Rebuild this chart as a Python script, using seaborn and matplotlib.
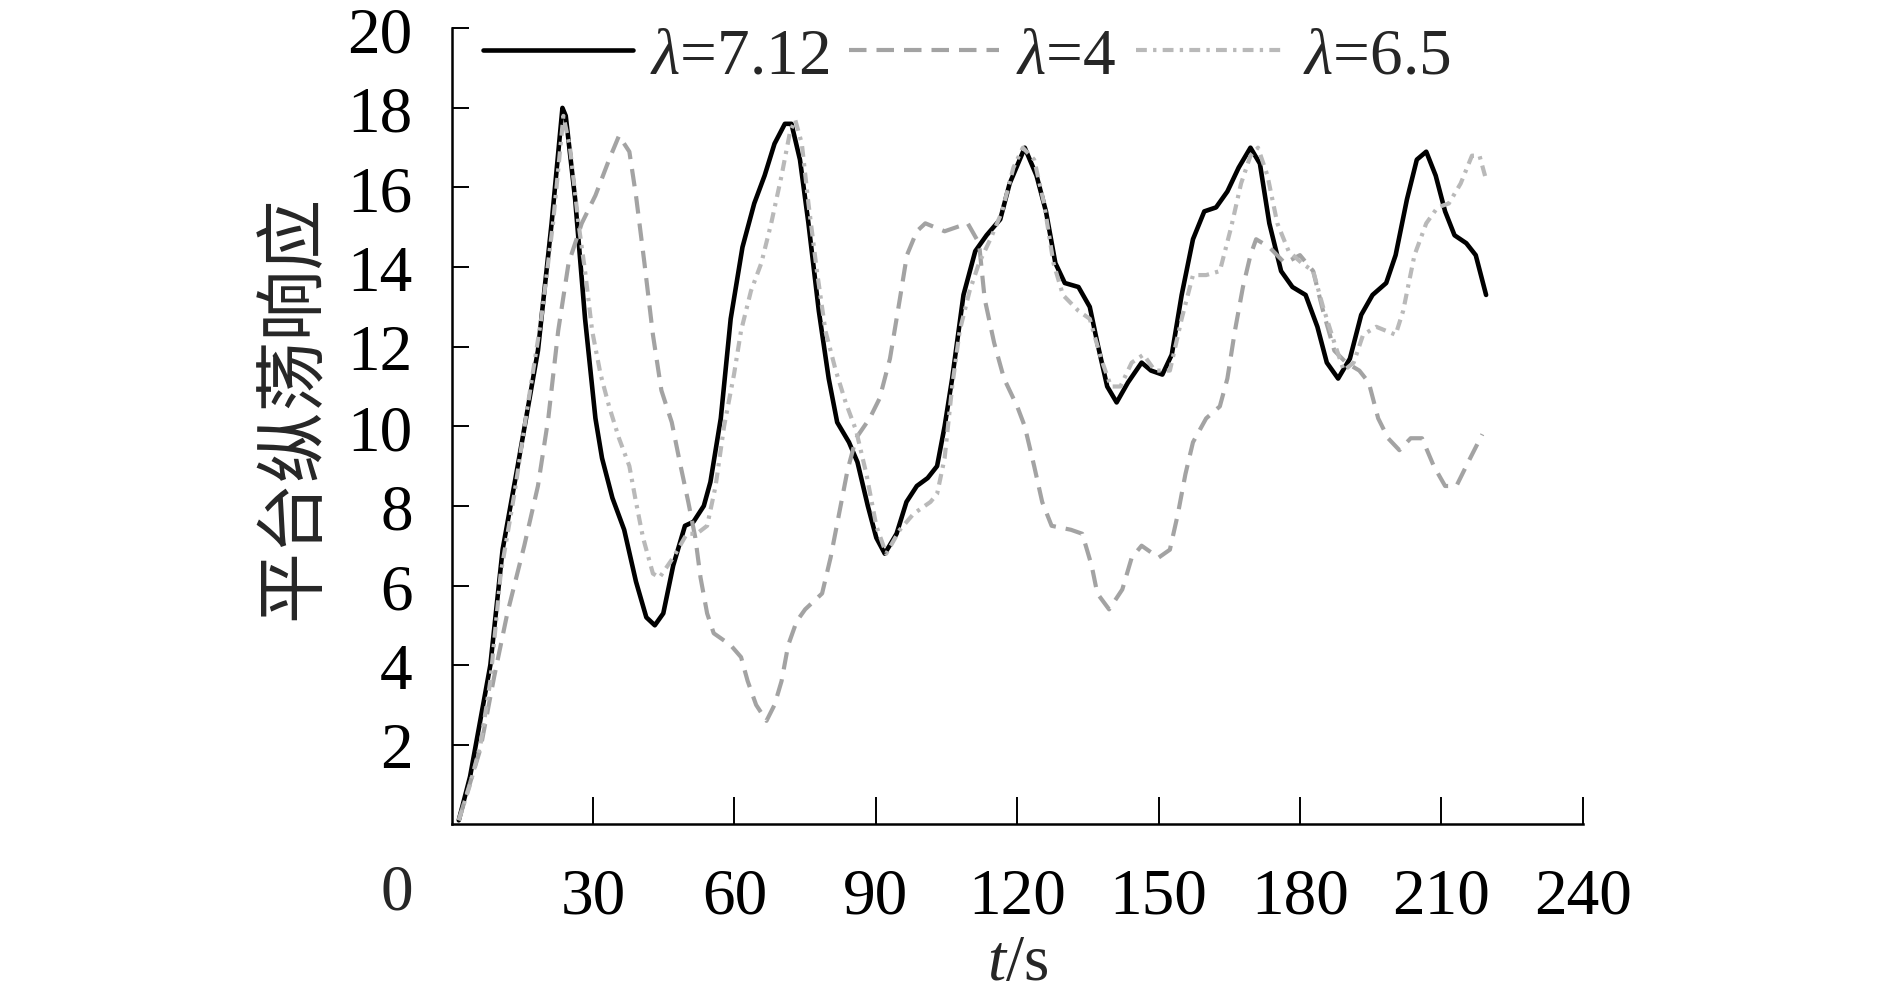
import numpy as np
import pandas as pd
import matplotlib
matplotlib.use("Agg")
import matplotlib.pyplot as plt
import seaborn as sns

# ---- data ----
t_a = [1.5, 3.9, 8.2, 10.8, 14.0, 18.3, 21.2, 23.5, 24.2, 26.2, 28.3, 30.5, 31.9, 34.1, 36.6, 39.1,
       41.3, 43.1, 44.9, 47.0, 49.5, 51.3, 53.5, 54.9, 57.1, 59.2, 61.7, 64.2, 66.4, 68.5, 70.7,
       72.1, 73.9, 75.7, 77.9, 80.0, 81.8, 84.3, 86.1, 88.3, 90.1, 91.9, 94.4, 96.5, 98.7, 101.0,
       103.0, 104.6, 106.2, 108.6, 111.1, 113.5, 116.4, 118.4, 121.6, 124.1, 126.1, 128.1, 130.1,
       133.0, 135.4, 137.0, 139.1, 141.1, 143.5, 146.4, 148.4, 150.8, 152.8, 154.9, 157.3, 159.7,
       162.2, 164.6, 167.0, 169.5, 171.5, 173.5, 176.0, 178.4, 181.2, 183.7, 185.7, 188.1, 190.6,
       193.0, 195.4, 198.3, 200.3, 202.7, 204.8, 206.8, 208.8, 210.8, 212.8, 215.3, 217.3, 219.5]
v_a = [0.1, 1.2, 4.0, 6.9, 9.0, 11.9, 15.1, 18.0, 17.8, 15.7, 12.7, 10.2, 9.2, 8.2, 7.4, 6.1,
       5.2, 5.0, 5.3, 6.5, 7.5, 7.6, 8.0, 8.6, 10.2, 12.7, 14.5, 15.6, 16.3, 17.1, 17.6,
       17.6, 16.7, 15.1, 12.9, 11.2, 10.1, 9.6, 9.1, 8.0, 7.2, 6.8, 7.3, 8.1, 8.5, 8.7,
       9.0, 10.0, 11.2, 13.3, 14.4, 14.8, 15.2, 16.1, 17.0, 16.3, 15.4, 14.1, 13.6,
       13.5, 13.0, 12.1, 11.0, 10.6, 11.1, 11.6, 11.4, 11.3, 11.8, 13.3, 14.7, 15.4,
       15.5, 15.9, 16.5, 17.0, 16.6, 15.1, 13.9, 13.5, 13.3, 12.5, 11.6, 11.2, 11.7,
       12.8, 13.3, 13.6, 14.3, 15.7, 16.7, 16.9, 16.3, 15.4, 14.8, 14.6, 14.3, 13.3]

t_b = [1.5, 6.1, 9.0, 11.8, 15.4, 18.3, 20.5, 22.6, 24.8, 27.6, 30.5, 33.4, 35.5, 37.7, 39.1,
       40.9, 42.7, 44.5, 46.7, 48.4, 50.2, 51.7, 52.8, 54.2, 55.6, 59.2, 61.4, 62.8, 64.6, 66.8,
       68.5, 70.0, 71.4, 73.2, 75.0, 78.6, 80.4, 82.2, 84.0, 85.8, 88.7, 90.8, 93.0, 95.1, 96.6,
       98.7, 100.5, 104.6, 109.5, 111.9, 113.1, 115.1, 117.2, 120.0, 121.6, 123.6, 125.3, 127.3,
       131.4, 133.8, 135.8, 137.0, 139.5, 142.3, 144.3, 146.4, 150.0, 152.4, 154.1, 155.7, 157.3,
       160.1, 163.0, 164.6, 166.2, 167.9, 169.5, 170.7, 173.5, 176.8, 180.0, 182.8, 184.9, 187.3,
       189.8, 192.6, 194.6, 196.6, 198.7, 201.1, 203.5, 205.9, 208.4, 210.8, 213.2, 215.7, 218.7]
v_b = [0.1, 1.9, 3.7, 5.3, 7.0, 8.5, 10.2, 12.4, 14.1, 15.1, 15.8, 16.7, 17.3, 16.9, 15.8,
       14.1, 12.3, 10.9, 10.1, 9.1, 8.1, 7.2, 6.2, 5.3, 4.8, 4.5, 4.2, 3.6, 3.0, 2.6,
       3.0, 3.6, 4.5, 5.1, 5.4, 5.8, 6.7, 7.8, 8.9, 9.7, 10.2, 10.7, 11.7, 13.2, 14.3,
       14.9, 15.1, 14.9, 15.1, 14.6, 13.2, 12.1, 11.2, 10.5, 10.0, 9.0, 8.1, 7.5,
       7.4, 7.3, 6.5, 5.8, 5.4, 5.9, 6.7, 7.0, 6.7, 6.9, 7.8, 8.8, 9.6,
       10.2, 10.5, 11.2, 12.4, 13.5, 14.3, 14.7, 14.5, 14.1, 14.3, 13.9, 12.9, 11.9,
       11.6, 11.4, 11.1, 10.2, 9.7, 9.4, 9.7, 9.7, 9.0, 8.5, 8.5, 9.1, 9.8]

t_c = [1.5, 3.9, 6.1, 8.2, 10.4, 13.3, 16.1, 19.0, 21.5, 23.7, 25.1, 26.9, 28.3, 29.8, 31.6,
       33.4, 35.5, 37.7, 39.1, 40.6, 42.7, 44.1, 47.0, 49.9, 52.0, 54.2, 56.0, 57.8, 59.9, 61.4,
       63.5, 65.7, 67.8, 70.0, 71.8, 72.9, 74.3, 75.7, 77.5, 79.3, 81.5, 83.6, 85.8, 88.0, 90.1,
       92.2, 95.1, 98.0, 101.6, 103.0, 104.6, 106.2, 107.8, 109.9, 111.9, 114.3, 116.8, 119.2,
       121.2, 123.6, 125.7, 127.7, 129.7, 133.0, 135.4, 137.8, 139.9, 141.9, 144.3, 146.8, 149.2,
       152.4, 154.9, 157.3, 160.1, 163.0, 165.4, 167.5, 169.5, 171.1, 173.1, 175.2, 177.6, 180.4,
       182.8, 184.9, 187.3, 189.3, 191.4, 193.4, 196.2, 200.3, 201.9, 204.3, 206.8, 209.2, 211.6,
       214.1, 216.5, 218.1, 219.5]
v_c = [0.1, 1.0, 2.0, 3.6, 6.3, 8.3, 10.5, 12.7, 15.1, 17.8, 17.0, 15.1, 13.9, 12.4, 11.3,
       10.5, 9.7, 9.0, 8.1, 7.2, 6.3, 6.2, 6.7, 7.3, 7.3, 7.5, 8.5, 10.0, 11.3, 12.4,
       13.4, 14.1, 15.1, 16.3, 17.4, 17.7, 17.1, 15.6, 13.9, 12.4, 11.4, 10.6, 9.9, 8.8, 7.5,
       6.8, 7.4, 7.8, 8.1, 8.3, 9.2, 11.0, 12.4, 13.4, 14.1, 14.7, 15.4, 16.5,
       17.0, 16.7, 15.6, 14.1, 13.3, 12.9, 12.7, 11.7, 11.0, 11.0, 11.6, 11.8, 11.4,
       11.4, 12.7, 13.8, 13.8, 13.9, 15.0, 16.1, 16.8, 17.0, 16.3, 15.1, 14.4, 14.1,
       13.9, 13.0, 12.1, 11.4, 11.6, 12.3, 12.5, 12.3, 12.9, 14.3, 15.1, 15.5, 15.6,
       16.1, 16.8, 16.8, 16.2]

series_labels = [r"$\lambda$=7.12", r"$\lambda$=4", r"$\lambda$=6.5"]
x_ticks = [30, 60, 90, 120, 150, 180, 210, 240]
y_ticks = [2, 4, 6, 8, 10, 12, 14, 16, 18, 20]
y_label = "平台纵荡响应"
x_label = "$t$/s"

# ---- style ----
sns.set_style("ticks")
plt.rcParams["font.family"] = ["Liberation Serif", "DejaVu Serif"]
plt.rcParams["mathtext.fontset"] = "custom"
plt.rcParams["mathtext.rm"] = "Liberation Serif"
plt.rcParams["mathtext.it"] = "Liberation Serif:italic"

FS = 47
fig = plt.figure(figsize=(18.9, 9.95), dpi=100)
ax = fig.add_axes([451.7 / 1890, 1 - 825.3 / 995, (1582.7 - 451.7) / 1890, (825.3 - 29.3) / 995])

sns.lineplot(x=t_a, y=v_a, ax=ax, color="#000000", linewidth=3.3, label=series_labels[0],
             sort=False, estimator=None)
sns.lineplot(x=t_b, y=v_b, ax=ax, color="#a3a3a3", linewidth=3.0, label=series_labels[1],
             sort=False, estimator=None)
sns.lineplot(x=t_c, y=v_c, ax=ax, color="#b9b9b9", linewidth=3.0, label=series_labels[2],
             sort=False, estimator=None)
lines = ax.get_lines()
for ln in lines:
    ln.set_solid_joinstyle("round")
    ln.set_dash_joinstyle("round")
lines[1].set_dashes([4.2, 2.4])
lines[2].set_dashes([2.6, 1.5, 0.8, 1.5])

ax.set_xlim(0, 240)
ax.set_ylim(0, 20)
ax.set_xticks(x_ticks)
ax.set_yticks(y_ticks)
ax.set_xticklabels([str(v) for v in x_ticks])
ax.set_yticklabels([str(v) for v in y_ticks])

for s in ["top", "right"]:
    ax.spines[s].set_visible(False)
for s in ["left", "bottom"]:
    ax.spines[s].set_linewidth(1.8)
    ax.spines[s].set_color("black")

ax.tick_params(axis="x", direction="in", length=19.5, width=1.4, pad=31, labelsize=FS, colors="black")
ax.tick_params(axis="y", direction="in", length=12.5, width=1.4, pad=28, labelsize=FS, colors="black")

ax.set_xlabel(x_label, fontsize=FS, labelpad=5)
ax.set_ylabel(y_label, fontsize=51, family=["Noto Sans CJK SC", "DejaVu Sans"])
ax.yaxis.set_label_coords(-0.1076, 0.5255)

fig.text(396.7 / 1890, 1 - 894 / 995, "0", fontsize=FS, ha="center", va="center")

leg = ax.legend(loc="center left", bbox_to_anchor=(0.0277, 0.964), frameon=False, ncol=3,
                fontsize=FS, handlelength=2.3, handletextpad=0.26, columnspacing=0.3,
                borderpad=0, borderaxespad=0)

fig.savefig("out.png", dpi=100, facecolor="white")
